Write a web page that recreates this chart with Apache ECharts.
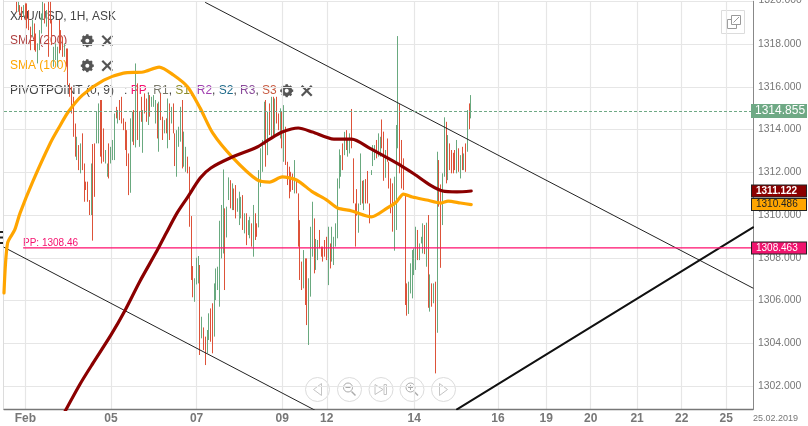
<!DOCTYPE html>
<html><head><meta charset="utf-8">
<style>html,body{margin:0;padding:0;background:#fff}#c{width:808px;height:426px}</style>
<script src="https://cdn.jsdelivr.net/npm/echarts@6/dist/echarts.min.js"></script>
</head><body><div id="c"></div>
<script>
const hourCount = 421;
const firstBar = 7;
const tickHours = [12,60,108,156,181,230,277,304,329,355,380,405];
const tickLabels = ['Feb','05','07','09','12','14','16','19','20','21','22','25'];
const barUp = [
0,1,0,0,1,0,0,0,0,1, 0,0,1,1,1,1,0,1,0,0, 0,1,1,1,0,0,0,1,0,0, 0,0,0,0,1,0,1,0,0,0,
0,0,1,0,0,1,1,0,0,0, 1,1,0,1,1,1,0,1,0,0, 0,0,0,0,1,1,0,1,0,1, 0,1,0,0,1,0,1,1,1,0,
1,0,0,1,0,1,0,1,0,0, 1,1,1,0,1,1,0,0,0,0, 1,1,1,0,1,0,0,1,1,0, 0,1,1,1,1,1,1,0,1,1,
0,1,0,0,1,1,1,0,1,0, 1,1,0,1,0,0,1,1,1,1, 0,1,0,1,0,1,0,0,1,0, 1,0,0,0,0,0,1,0,0,0,
0,1,0,0,1,1,1,0,1,1, 0,0,0,0,0,1,0,1,1,1, 1,1,1,0,1,0,1,1,0,0, 0,0,1,1,0,1,0,0,0,1,
1,1,0,1,1,0,0,1,0,0, 0,0,1,1,1,0,0,0,0,0, 1,1,1,1,1,0,1,1,1,0, 1,0,1,0,1,0,1,0,0,1,
1,0,1,0,0,0,0,1,0,1, 0,1,0,1,0,1];
const barHigh = [
1319.97,1319.97,1319.82,1319.74,1319.82,1319.90,1319.90,1319.59,1318.81,1319.12,
1318.96,1318.49,1318.03,1318.65,1319.43,1319.97,1319.90,1319.59,1319.97,1319.97,
1319.12,1317.87,1318.03,1317.87,1319.12,1318.65,1318.34,1318.03,1317.79,1317.79,
1316.16,1316.00,1315.53,1314.28,1313.66,1313.27,1313.35,1313.82,1312.41,1311.56,
1311.56,1310.70,1312.41,1313.32,1313.35,1314.83,1315.22,1315.38,1315.38,1314.05,
1313.04,1312.41,1313.35,1313.19,1313.51,1314.75,1315.06,1314.91,1315.38,1315.53,
1314.52,1314.36,1313.97,1312.88,1314.52,1314.83,1314.91,1317.09,1316.16,1314.83,
1315.53,1314.91,1315.69,1315.45,1315.69,1315.61,1315.53,1315.61,1315.38,1315.22,
1315.30,1315.69,1314.60,1314.44,1314.52,1315.45,1315.22,1315.06,1315.22,1313.82,
1313.97,1314.13,1315.06,1315.38,1313.90,1313.19,1312.73,1312.26,1309.95,1307.61,
1307.04,1308.00,1308.08,1307.66,1305.24,1304.74,1304.31,1304.62,1305.40,1305.63,
1305.87,1306.80,1307.50,1307.58,1309.73,1310.47,1312.13,1310.31,1310.39,1311.76,
1311.63,1311.48,1311.24,1311.40,1310.78,1311.09,1310.85,1310.93,1310.08,1310.08,
1309.76,1309.92,1309.61,1310.47,1310.08,1309.61,1312.10,1313.12,1313.51,1315.30,
1315.38,1314.83,1315.22,1315.53,1315.53,1315.45,1315.53,1314.75,1314.99,1314.83,
1315.14,1314.13,1312.49,1312.26,1312.02,1311.94,1312.57,1311.63,1311.01,1309.76,
1307.82,1308.36,1307.97,1307.97,1307.04,1309.45,1310.62,1309.84,1308.88,1308.83,
1309.30,1308.52,1308.52,1308.83,1308.98,1309.45,1308.67,1309.45,1308.98,1309.61,
1311.71,1313.07,1312.80,1313.35,1313.89,1313.97,1313.51,1313.82,1314.96,1312.65,
1310.54,1311.21,1310.54,1312.88,1311.60,1311.63,1311.68,1312.06,1310.54,1312.10,
1313.27,1313.27,1313.51,1313.82,1313.66,1314.47,1313.90,1313.04,1313.58,1312.49,
1311.71,1311.48,1311.79,1314.21,1318.37,1315.19,1313.51,1312.65,1311.01,1306.80,
1306.88,1307.74,1308.36,1308.44,1309.45,1309.30,1308.67,1308.98,1309.61,1309.53,
1309.64,1310.00,1307.22,1306.80,1306.80,1306.88,1312.96,1312.57,1311.43,1311.95,
1314.57,1314.36,1313.74,1313.35,1313.04,1312.91,1313.04,1313.51,1313.12,1312.80,
1313.19,1312.88,1313.35,1314.91,1315.22,1315.61];
const barLow = [
1319.51,1319.51,1319.35,1319.12,1319.27,1319.12,1318.73,1318.65,1317.71,1318.34,
1317.71,1317.64,1317.09,1317.71,1318.49,1319.12,1318.96,1318.81,1317.40,1318.96,
1317.95,1316.94,1317.25,1316.94,1317.56,1317.71,1317.40,1317.40,1316.94,1316.08,
1315.53,1314.75,1313.66,1312.73,1312.57,1312.10,1311.95,1312.10,1310.62,1311.17,
1310.62,1310.00,1310.00,1308.80,1310.85,1313.35,1313.35,1312.73,1312.41,1312.49,
1312.41,1311.79,1311.71,1312.41,1312.57,1312.57,1314.52,1314.28,1314.44,1314.28,
1313.97,1313.04,1312.29,1310.93,1311.04,1313.43,1313.27,1313.16,1313.51,1313.19,
1314.36,1312.91,1314.75,1314.36,1314.21,1314.60,1315.06,1315.06,1314.28,1313.58,
1312.96,1314.44,1313.51,1313.82,1313.82,1313.12,1313.51,1314.28,1313.82,1312.29,
1311.79,1313.19,1313.43,1312.18,1312.26,1312.02,1311.95,1309.45,1306.96,1306.15,
1305.94,1306.75,1306.80,1303.45,1304.23,1303.68,1302.98,1303.53,1304.15,1304.07,
1303.53,1304.31,1306.02,1306.49,1305.71,1307.97,1308.20,1306.49,1308.95,1310.70,
1310.31,1310.23,1310.23,1309.84,1310.15,1309.53,1309.84,1309.30,1309.14,1308.59,
1309.06,1308.91,1308.52,1308.05,1308.83,1308.98,1309.42,1311.32,1312.02,1313.27,
1312.26,1312.80,1313.74,1313.58,1313.74,1313.74,1314.28,1313.97,1313.58,1313.12,
1312.49,1312.34,1311.40,1310.78,1311.09,1311.17,1311.01,1311.01,1308.52,1306.96,
1306.49,1306.57,1305.79,1304.85,1303.92,1306.18,1308.05,1307.27,1307.43,1307.89,
1308.44,1308.05,1307.82,1308.05,1307.89,1306.72,1307.50,1307.82,1307.66,1308.52,
1308.91,1311.24,1311.79,1312.10,1312.80,1313.04,1312.73,1312.88,1313.12,1310.55,
1308.52,1309.97,1309.17,1310.47,1310.54,1310.23,1310.54,1310.54,1309.61,1311.87,
1312.29,1312.57,1312.65,1312.73,1312.73,1313.12,1311.60,1311.74,1312.49,1311.24,
1310.08,1309.22,1308.33,1309.30,1313.12,1311.95,1311.24,1311.17,1305.79,1305.29,
1305.37,1306.33,1306.10,1307.19,1307.43,1307.89,1307.89,1308.67,1308.20,1308.17,
1307.58,1305.66,1305.48,1305.71,1305.87,1302.59,1304.49,1310.39,1307.53,1309.53,
1311.79,1311.48,1311.63,1312.10,1311.95,1311.95,1312.10,1311.95,1312.02,1311.71,
1312.10,1312.10,1312.02,1312.96,1314.02,1314.52];
const sma100 = [[0,1306.35],[2,1308.69],[6,1309.30],[9,1310.09],[16,1311.54],[26,1313.37],[31,1314.12],[36,1314.82],[44,1315.61],[56,1316.31],[67,1316.64],[78,1316.69],[87,1316.92],[95,1316.55],[103,1315.99],[110,1315.00],[117,1313.84],[128,1312.71],[142,1311.64],[149,1311.54],[156,1311.78],[164,1311.64],[173,1311.08],[181,1310.70],[187,1310.33],[195,1310.19],[206,1309.91],[215,1310.33],[220,1310.61],[224,1310.98],[229,1310.84],[237,1310.70],[245,1310.56],[249,1310.65],[256,1310.56],[262,1310.486]];
const sma200 = [[34,1300.78],[43,1302.14],[50,1303.08],[60,1304.39],[68,1305.56],[76,1306.87],[86,1308.36],[91,1309.16],[97,1310.09],[103,1310.84],[110,1311.73],[116,1312.20],[128,1312.71],[142,1313.18],[149,1313.55],[156,1313.88],[165,1314.07],[173,1313.88],[185,1313.55],[195,1313.55],[205,1313.13],[215,1312.67],[223,1312.29],[230,1311.92],[239,1311.40],[246,1311.12],[254,1311.08],[262,1311.122]];
const channelUpper = [[113,1319.94],[420,1306.58]];
const channelLower = [[0,1308.49],[420,1290.13]];
const supportLine = [[254,1300.91],[420,1309.42]];
const pivotLine = [[11,1308.463],[420,1308.463]];
const lastPrice = 1314.855, sma200Last = 1311.122, sma100Last = 1310.486, pivotValue = 1308.463;

const categories = Array.from({length:hourCount},(_, i)=>{const t=tickHours.indexOf(i);return t>=0?tickLabels[t]:'h'+i;});
const candles = categories.map(()=>'-');
barUp.forEach((u,i)=>{const h=barHigh[i],l=barLow[i];candles[firstBar+i]=u?[l,h,l,h]:[h,l,l,h];});
const isTick=(i)=>tickHours.includes(i);

const FONT='"Liberation Sans",Arial,sans-serif';
function tag(value,bg,fg,border,bold,size){
  return {silent:true,symbol:'none',lineStyle:{color:'rgba(0,0,0,0)',width:0,opacity:1},animation:false,
    data:[{yAxis:value,label:{show:true,opacity:1,position:'end',distance:-1,formatter:value.toFixed(3),color:fg,backgroundColor:bg,
      borderColor:border,borderWidth:1,padding:[0,0,0,4],width:50,height:size+1,lineHeight:size+1,
      fontFamily:FONT,fontSize:size,fontWeight:bold?'bold':'normal',align:'left',verticalAlign:'middle'}}]};
}
const gear=(x,y)=>({type:'group',x,y,children:[
  {type:'circle',shape:{r:4},style:{fill:'none',stroke:'#555',lineWidth:3}},
  ...[0,45,90,135].map(a=>({type:'line',rotation:a*Math.PI/180,shape:{x1:-6.5,y1:0,x2:6.5,y2:0},style:{stroke:'#555',lineWidth:2.4}})),
  {type:'circle',shape:{r:2},style:{fill:'#fff'}}]});
const cross=(x,y)=>({type:'group',x,y,children:[
  {type:'line',shape:{x1:-5,y1:-5,x2:5,y2:5},style:{stroke:'#555',lineWidth:2.2}},
  {type:'line',shape:{x1:-5,y1:5,x2:5,y2:-5},style:{stroke:'#555',lineWidth:2.2}}]});
const txt=(x,y,text,fill,size)=>({type:'text',x,y,style:{text,fill,font:(size||12)+'px '+FONT,textVerticalAlign:'middle',verticalAlign:'middle'}});
const navC=(x,kids)=>({type:'group',x,y:389.5,children:[
  {type:'circle',shape:{r:12},style:{fill:'#fff',fillOpacity:0.6,stroke:'#dcdcdc',lineWidth:1}},...kids]});
const g='#c4c4c4';
const nav=[
 navC(317.5,[{type:'polygon',shape:{points:[[-4,0],[4,-6],[4,6]]},style:{fill:'none',stroke:g}}]),
 navC(349.5,[{type:'circle',x:-1.5,y:-2,shape:{r:4.5},style:{fill:'none',stroke:'#aaa'}},{type:'line',shape:{x1:-4,y1:-2,x2:1,y2:-2},style:{stroke:'#aaa'}},{type:'line',shape:{x1:2,y1:2,x2:6,y2:6},style:{stroke:'#aaa',lineWidth:1.5}}]),
 navC(381,[{type:'polygon',shape:{points:[[-6,-5],[2,0],[-6,5]]},style:{fill:'none',stroke:g}},{type:'rect',shape:{x:3,y:-5,width:2.5,height:10},style:{fill:'none',stroke:g}}]),
 navC(412,[{type:'circle',x:-1.5,y:-2,shape:{r:4.5},style:{fill:'none',stroke:'#aaa'}},{type:'line',shape:{x1:-4,y1:-2,x2:1,y2:-2},style:{stroke:'#aaa'}},{type:'line',shape:{x1:-1.5,y1:-4.5,x2:-1.5,y2:0.5},style:{stroke:'#aaa'}},{type:'line',shape:{x1:2,y1:2,x2:6,y2:6},style:{stroke:'#aaa',lineWidth:1.5}}]),
 navC(443.5,[{type:'polygon',shape:{points:[[4,0],[-4,-6],[-4,6]]},style:{fill:'none',stroke:g}}])
];
const graphics=[
 txt(10,17,'XAU/USD, 1H, ASK','#444'),
 txt(10,41,'SMA (200)','#ad3f3f'),
 txt(10,66,'SMA (100)','#ffa500'),
 {type:'text',x:10,y:91,style:{text:'PIVOTPOINT (0, 9)   : {pp|PP}, {r1|R1}, {s1|S1}, {r2|R2}, {s2|S2}, {r3|R3}, {s3|S3}',fill:'#444',font:'12px '+FONT,verticalAlign:'middle',
   rich:{pp:{fill:'#f5126f',font:'12px '+FONT},r1:{fill:'#77776a',font:'12px '+FONT},s1:{fill:'#8a8a2a',font:'12px '+FONT},r2:{fill:'#a040b0',font:'12px '+FONT},s2:{fill:'#1f6a8a',font:'12px '+FONT},r3:{fill:'#8a4a9a',font:'12px '+FONT},s3:{fill:'#c75a40',font:'12px '+FONT}}}},
 gear(87.3,40.7),cross(107.3,40.7),gear(87.3,65.7),cross(107.3,65.7),gear(286.7,90.7),cross(306.7,90.7),
 txt(23,243.5,'PP: 1308.46','#f5126f',10),
 txt(753,418.5,'25.02.2019','#777',9),
 txt(758.5,0.5,'1320.000','#777',10.4),
 {type:'rect',shape:{x:721.5,y:10.5,width:23,height:23},style:{fill:'none',stroke:'#dcdcdc'}},
 {type:'rect',shape:{x:727.5,y:19.5,width:9,height:9},style:{fill:'none',stroke:'#999'}},
 {type:'rect',shape:{x:731.5,y:15.5,width:9,height:9},style:{fill:'#fff',stroke:'#999'}},
 {type:'line',shape:{x1:733.5,y1:22.5,x2:739,y2:17},style:{stroke:'#999'}},
 {type:'line',shape:{x1:3.5,y1:0,x2:3.5,y2:409},style:{stroke:'#dcdcdc'}},
 {type:'rect',shape:{x:0,y:231,width:3,height:2},style:{fill:'#222'}},
 {type:'rect',shape:{x:0,y:236.5,width:3,height:2},style:{fill:'#222'}},
 {type:'rect',shape:{x:0,y:242,width:3,height:2},style:{fill:'#222'}},
 ...nav
];
const overlay=(name,data,color,width,extra)=>Object.assign({name,type:'line',data,showSymbol:false,symbol:'none',silent:true,animation:false,clip:true,
  lineStyle:{color,width,cap:'round',join:'round'},itemStyle:{color}},extra||{});

const chart=echarts.init(document.getElementById('c'),null,{renderer:'canvas'});
chart.setOption({
  animation:false,backgroundColor:'#fff',
  grid:{left:4,right:55,top:1.25,bottom:16.7,containLabel:false},
  tooltip:{show:false},
  xAxis:{type:'category',data:categories,boundaryGap:false,
    axisLine:{lineStyle:{color:'#777',width:1.4}},axisTick:{show:false},
    axisLabel:{interval:i=>isTick(i),margin:3,color:'#777',fontFamily:FONT,fontSize:12,fontWeight:'bold',hideOverlap:false,showMinLabel:true,showMaxLabel:true,
      formatter:v=>tickLabels.includes(v)?v:''},
    splitLine:{show:true,showMinLine:true,showMaxLine:true,interval:i=>isTick(i),lineStyle:{color:'#e6e6e6',width:1.2}}},
  yAxis:{type:'value',position:'right',min:1300.91,max:1320,splitNumber:10,scale:true,
    axisLine:{show:true,lineStyle:{color:'#888',width:1}},axisTick:{show:false},
    axisLabel:{margin:5,color:'#777',fontFamily:FONT,fontSize:10.4,showMinLabel:false,showMaxLabel:false,formatter:v=>v.toFixed(3)},
    splitLine:{show:true,lineStyle:{color:'#e6e6e6',width:1.2}}},
  series:[
    {name:'XAU/USD',type:'candlestick',data:candles,barWidth:0.01,silent:true,animation:false,
     itemStyle:{color:'#69a97f',color0:'#dd5239',borderColor:'#69a97f',borderColor0:'#dd5239',borderWidth:1},
     markLine:{silent:true,symbol:'none',animation:false,lineStyle:{color:'#6fa985',type:[3,2],width:1},
       data:[{yAxis:lastPrice,label:{show:true,position:'end',distance:-2,formatter:lastPrice.toFixed(3),color:'#fff',backgroundColor:'#6fa985',padding:[1,0,0,4],width:52,height:13,lineHeight:13,fontFamily:FONT,fontSize:12,align:'left',verticalAlign:'middle'}}]}},
    overlay('Channel upper',channelUpper,'#222',1),
    overlay('Channel lower',channelLower,'#222',1),
    overlay('Support',supportLine,'#111',2),
    overlay('Pivot',pivotLine,'#ff0f6e',1.4,{markLine:tag(pivotValue,'#f0146e','#fff','#222',false,10)}),
    overlay('SMA 100',sma100,'#ffa500',3.2,{smooth:0.25,markLine:tag(sma100Last,'#ffa500','#222','#222',false,10)}),
    overlay('SMA 200',sma200,'#8b0000',3.2,{smooth:0.25,markLine:tag(sma200Last,'#8b0000','#fff','#222',true,10)})
  ],
  graphic:{elements:graphics}
});
</script></body></html>
